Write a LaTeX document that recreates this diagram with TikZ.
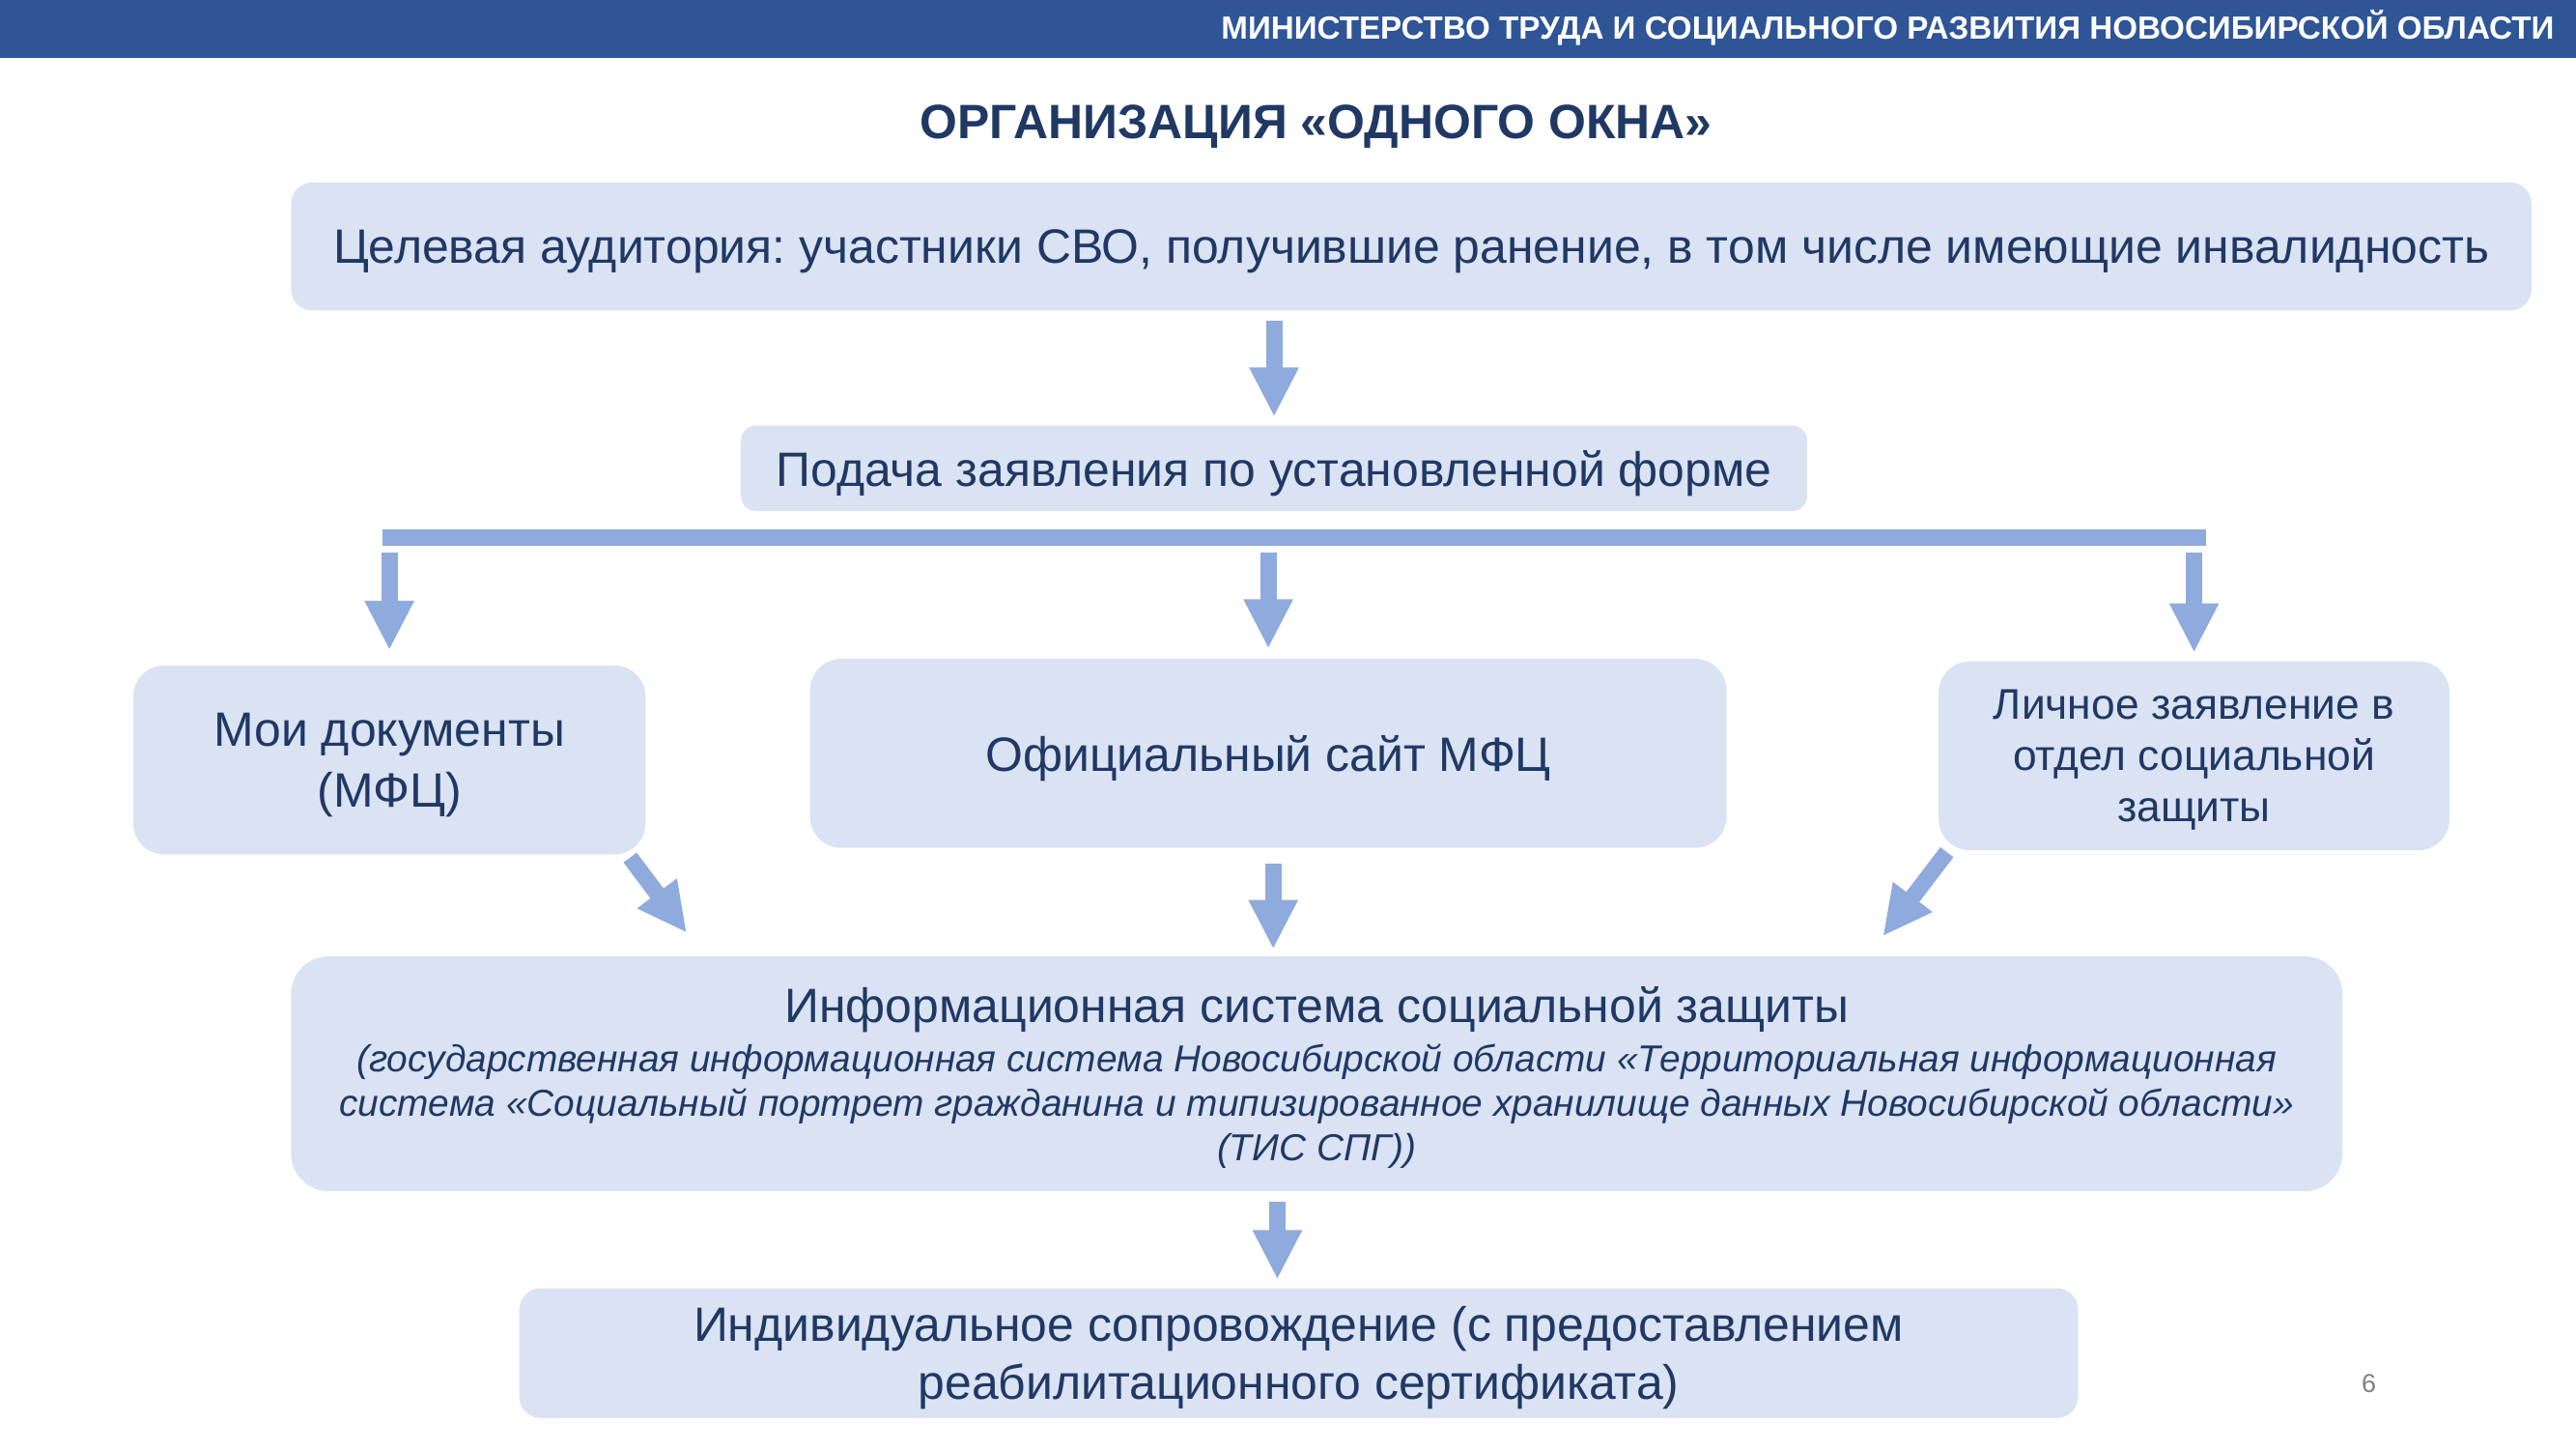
\documentclass[tikz,border=0pt]{standalone}
\usepackage{fontspec}
\setmainfont{Liberation Sans}
\usepackage{tikz}
\usetikzlibrary{positioning,calc,arrows.meta}
\definecolor{headblue}{HTML}{2F5597}
\definecolor{boxfill}{HTML}{DAE3F3}
\definecolor{arrowblue}{HTML}{8FAADC}
\definecolor{navy}{HTML}{203864}
\frenchspacing
\newcommand{\noteline}[1]{{\fontsize{13}{15.4}\selectfont\itshape #1}}
\tikzset{%
  info box/.style={
    rectangle,
    fill=boxfill,
    text=navy,
    align=center,
    inner sep=0pt,
    text depth=0pt,
    font=\fontsize{16.7}{21}\selectfont
  },
  flow arrow/.style={
    draw=arrowblue,
    line width=0.2cm,
    -{Triangle[width=0.56cm,length=0.6cm]}
  },
}

\begin{document}
\begin{tikzpicture}[x=0.02cm, y=-0.02cm]
\useasboundingbox (0,0) rectangle (1568,882);
% header
\fill[headblue] (0,0) rectangle (1568,35);
\node[anchor=east, inner sep=0pt, text=white, font=\fontsize{11.1}{13}\selectfont\bfseries] (ministry) at (1555,17)
    {МИНИСТЕРСТВО ТРУДА И СОЦИАЛЬНОГО РАЗВИТИЯ НОВОСИБИРСКОЙ ОБЛАСТИ};
\node[text=navy, font=\fontsize{16.7}{19}\selectfont\bfseries] (title) at (801,77)
    {ОРГАНИЗАЦИЯ «ОДНОГО ОКНА»};
% boxes
\node[info box, rounded corners=0.26cm, minimum width=27.28cm, minimum height=1.56cm] (target) at (859,150)
    {Целевая аудитория: участники СВО, получившие ранение, в том числе имеющие инвалидность};
\node[info box, rounded corners=0.18cm, minimum width=12.98cm, minimum height=1.04cm] (apply) at (775.5,285)
    {Подача заявления по установленной форме};
\node[info box, rounded corners=0.38cm, minimum width=6.24cm, minimum height=2.30cm] (mydocs) at (237,462.5)
    {Мои документы\\(МФЦ)};
\node[info box, rounded corners=0.38cm, minimum width=11.16cm, minimum height=2.30cm] (site) at (772,458.5)
    {Официальный сайт МФЦ};
\node[info box, rounded corners=0.38cm, minimum width=6.22cm, minimum height=2.30cm,
    font=\fontsize{14.85}{17.8}\selectfont] (personal) at (1335.5,460)
    {Личное заявление в\\отдел социальной\\защиты};
\node[info box, rounded corners=0.46cm, minimum width=24.98cm, minimum height=2.86cm,
    font=\fontsize{16.7}{15.4}\selectfont] (system) at (801.5,653.5)
    {Информационная система социальной защиты\\[1.7pt]
    \noteline{(государственная информационная система Новосибирской области «Территориальная информационная}\\
    \noteline{система «Социальный портрет гражданина и типизированное хранилище данных Новосибирской области»}\\
    \noteline{(ТИС СПГ))}};
\node[info box, rounded corners=0.26cm, minimum width=18.98cm, minimum height=1.58cm,
    font=\fontsize{16.7}{20}\selectfont] (support) at (790.5,823.5)
    {Индивидуальное сопровождение (с предоставлением\\реабилитационного сертификата)};
\node[text=gray, font=\fontsize{9}{11}\selectfont] (page) at (1442,842) {6};
% branch bar
\coordinate (barL) at (233,327);
\coordinate (barR) at (1343,327);
\draw[arrowblue, line width=0.2cm] (barL) -- (barR);
% arrows
\draw[flow arrow, shorten <=0.12cm, shorten >=0.10cm] (target.south -| apply.north) -- (apply.north);
\draw[flow arrow, shorten <=0.18cm, shorten >=0.18cm] (mydocs.north |- barL) -- (mydocs.north);
\draw[flow arrow, shorten <=0.18cm, shorten >=0.12cm] (site.north |- barL) -- (site.north);
\draw[flow arrow, shorten <=0.18cm, shorten >=0.10cm] (personal.north |- barL) -- (personal.north);
\draw[flow arrow, shorten <=0.04cm, shorten >=0.35cm] ($(mydocs.south east)+(-11,0)$) -- ($(system.north)+(-373,0)$);
\draw[flow arrow, shorten <=0.18cm, shorten >=0.08cm] ($(site.south)+(3,0)$) -- ($(system.north)+(-26.5,0)$);
\draw[flow arrow, shorten <=0.02cm, shorten >=0.30cm] ($(personal.south west)+(6,0)$) -- ($(system.north)+(335.5,0)$);
\draw[flow arrow, shorten <=0.12cm, shorten >=0.10cm] ($(system.south)+(-24,0)$) -- ($(support.north)+(-13,0)$);
\end{tikzpicture}
\end{document}
